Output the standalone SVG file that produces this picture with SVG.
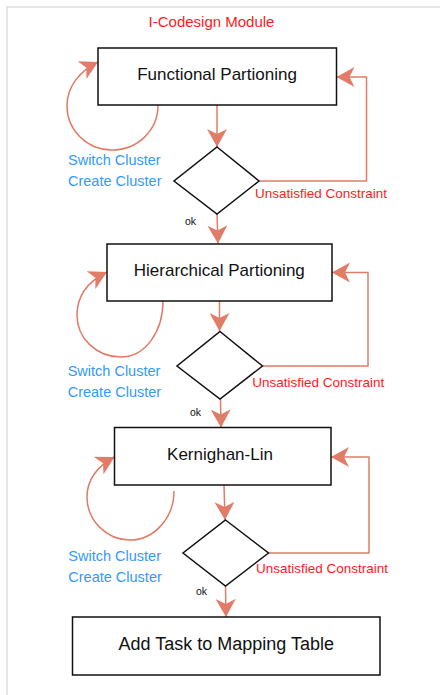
<svg xmlns="http://www.w3.org/2000/svg" width="440" height="695" viewBox="0 0 440 695">
<style>
.box{fill:#fff;stroke:#111;stroke-width:1.5}
.dia{fill:#fff;stroke:#111;stroke-width:1.5}
.btxt{font-family:"Liberation Sans",Arial,sans-serif;font-size:17px;fill:#111;text-anchor:middle}
.con{fill:none;stroke:#e07c67;stroke-width:1.5}
.blue{font-family:"Liberation Sans",Arial,sans-serif;font-size:14.5px;fill:#3399ff}
.red{font-family:"Liberation Sans",Arial,sans-serif;font-size:13.5px;fill:#ff1a1a}
.ok{font-family:"Liberation Sans",Arial,sans-serif;font-size:10.5px;fill:#111}
</style>
<defs>
<marker id="arr" markerUnits="userSpaceOnUse" markerWidth="18" markerHeight="20" viewBox="0 0 18 20" refX="18" refY="10" orient="auto">
<path d="M0,0 L18,10 L0,20 L5,10 Z" fill="#e07c67"/>
</marker>
</defs>
<rect x="0" y="0" width="440" height="695" fill="#fff"/>
<rect x="7" y="7" width="500" height="700" fill="none" stroke="#dedede" stroke-width="1.5"/>
<text id="title" x="211.5" y="27" font-family="Liberation Sans, Arial, sans-serif" font-size="15" fill="#ff1a1a" text-anchor="middle">I-Codesign Module</text>

<g id="connectors">
<path class="con" d="M217,105 V147" marker-end="url(#arr)"/>
<path class="con" d="M217,214 L218,243.5" marker-end="url(#arr)"/>
<path class="con" d="M219.5,301 V331" marker-end="url(#arr)"/>
<path class="con" d="M220.5,399 L221,427.5" marker-end="url(#arr)"/>
<path class="con" d="M224,485 L225,520" marker-end="url(#arr)"/>
<path class="con" d="M225.5,586 L226,617" marker-end="url(#arr)"/>
<path class="con" d="M259,181 H366.5 V77 H336.5" marker-end="url(#arr)"/>
<path class="con" d="M262.5,366 H368 V272.5 H332" marker-end="url(#arr)"/>
<path class="con" d="M268.5,553 H369 V457 H331" marker-end="url(#arr)"/>
<path class="con" d="M158,105 C158,130 138,150 112,150 C87,150 67,130 67,106 C67,86 80,71 98,62" marker-end="url(#arr)"/>
<path class="con" d="M163,301 C163,332 145,357 121,357 C96,357 77,338 77,315 C77,295 89,281 107,272" marker-end="url(#arr)"/>
<path class="con" d="M174,491 C174,518 154,540 130,540 C106,540 87,520 87,497 C87,479 98,466 114.5,457" marker-end="url(#arr)"/>
</g>

<g id="n-functional">
<rect class="box" x="98" y="48" width="238.5" height="57"/>
<text class="btxt" x="217" y="80">Functional Partioning</text>
</g>
<g id="d-1">
<polygon class="dia" points="217,147 259,181 217,214 174,181"/>
</g>
<g id="n-hierarchical">
<rect class="box" x="107" y="244" width="225" height="57"/>
<text class="btxt" x="219.3" y="276">Hierarchical Partioning</text>
</g>
<g id="d-2">
<polygon class="dia" points="220,331.5 262.5,366 220,399 177,366"/>
</g>
<g id="n-kl">
<rect class="box" x="114.5" y="427.5" width="216.5" height="57.5"/>
<text class="btxt" x="220" y="460">Kernighan-Lin</text>
</g>
<g id="d-3">
<polygon class="dia" points="225.5,520 268.5,553 225.5,586 183,553"/>
</g>
<g id="n-add">
<rect class="box" x="72.5" y="617" width="307.5" height="58"/>
<text class="btxt" x="226.3" y="650" style="font-size:18px">Add Task to Mapping Table</text>
</g>

<g id="labels">
<text class="blue" x="68" y="164.5">Switch Cluster</text>
<text class="blue" x="68" y="185.5">Create Cluster</text>
<text class="red" x="255" y="197.5">Unsatisfied Constraint</text>
<text class="ok" x="185" y="224.5">ok</text>
<text class="blue" x="67.7" y="375.5">Switch Cluster</text>
<text class="blue" x="67.7" y="396.5">Create Cluster</text>
<text class="red" x="252.3" y="386.5">Unsatisfied Constraint</text>
<text class="ok" x="190" y="416">ok</text>
<text class="blue" x="68.3" y="561">Switch Cluster</text>
<text class="blue" x="68.3" y="582">Create Cluster</text>
<text class="red" x="256" y="573">Unsatisfied Constraint</text>
<text class="ok" x="196" y="595">ok</text>
</g>
</svg>
